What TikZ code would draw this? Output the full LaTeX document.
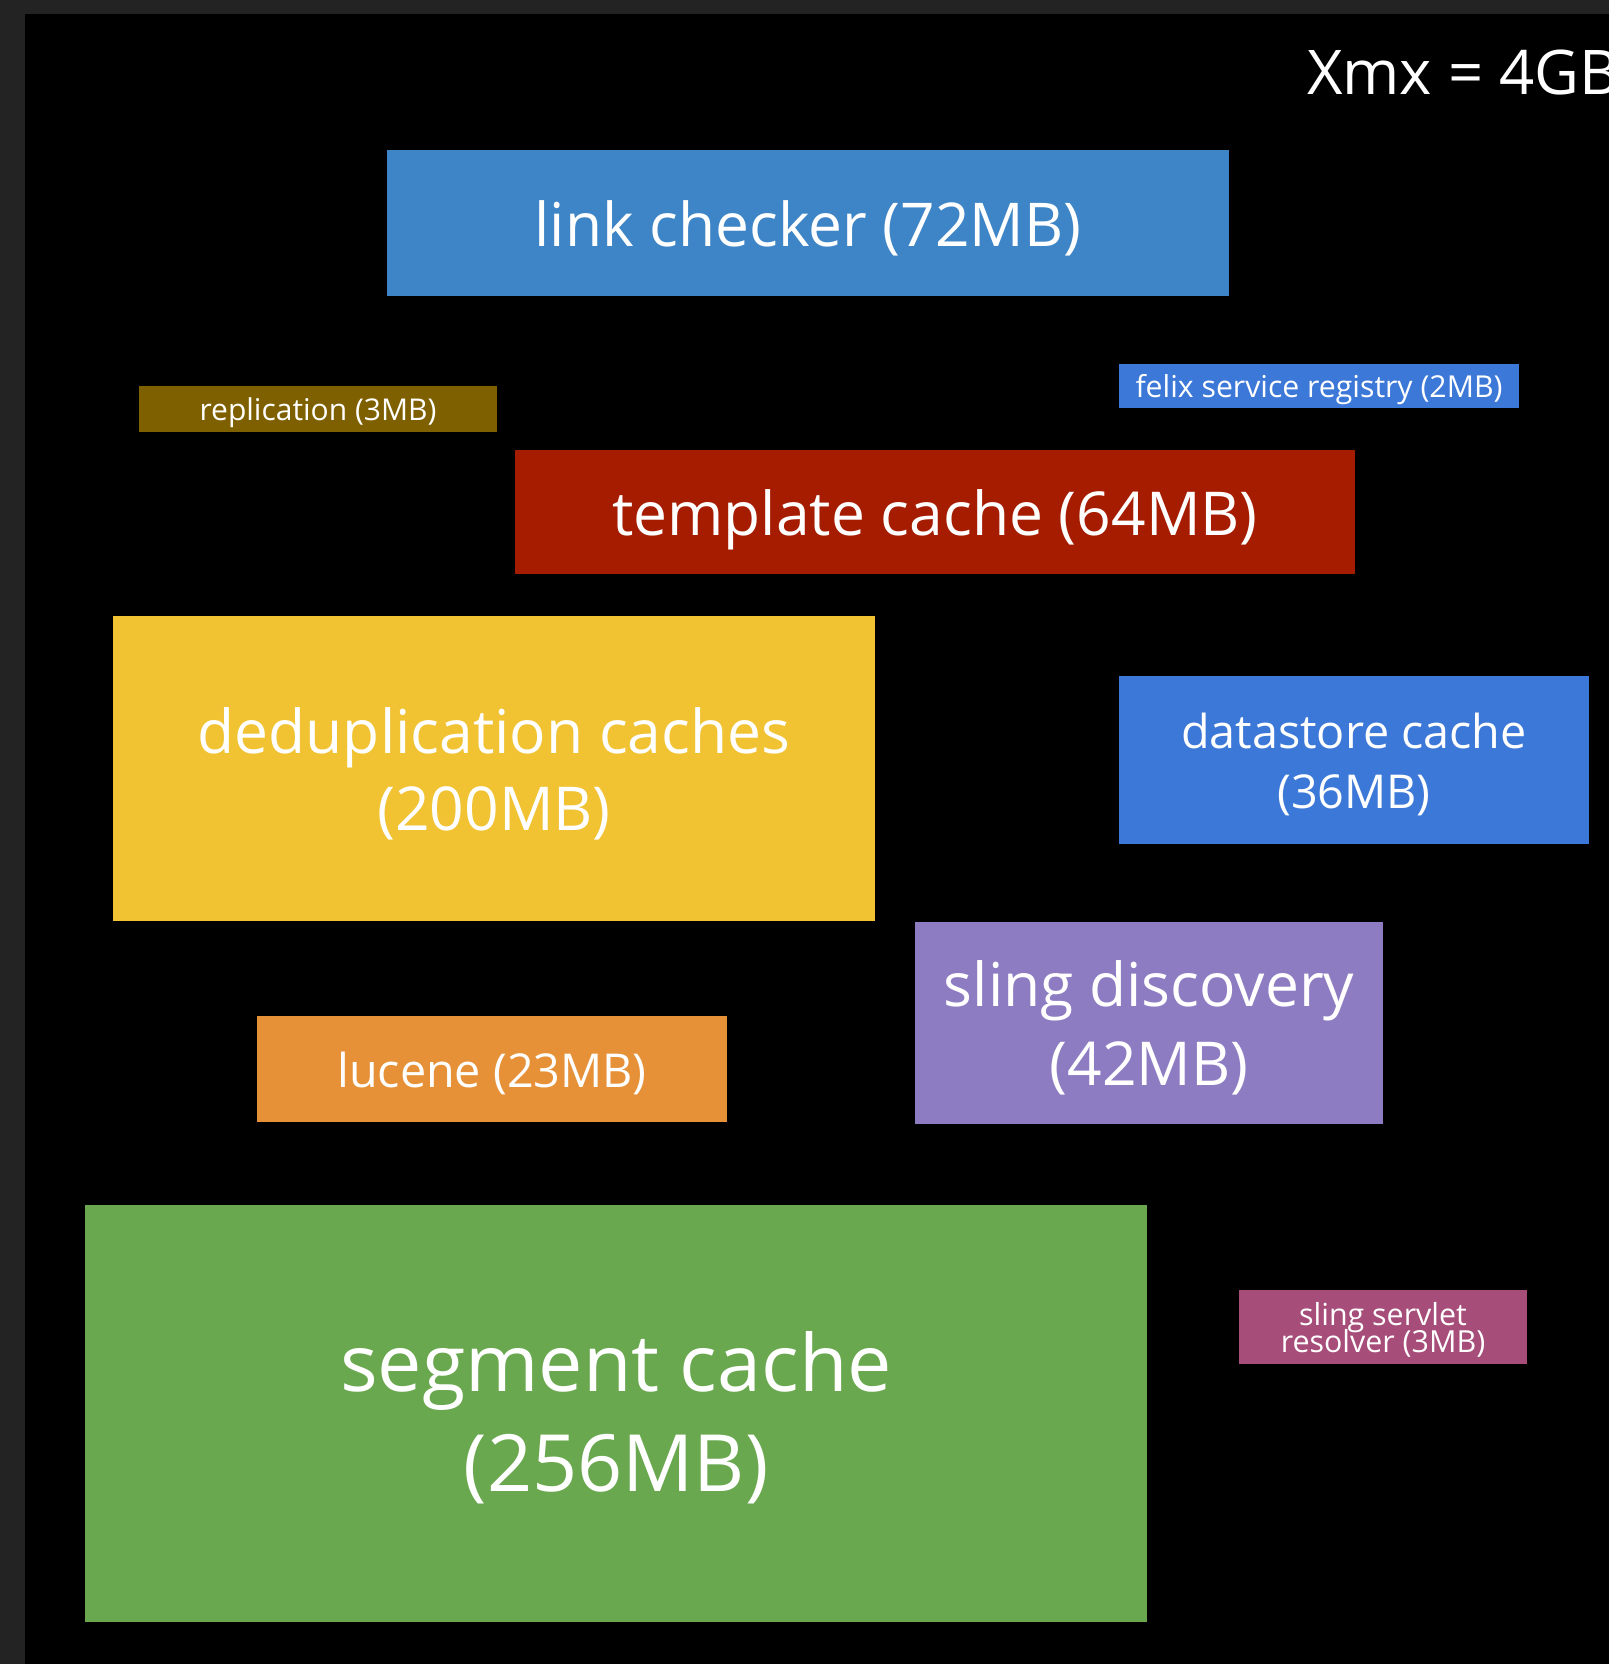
\documentclass[tikz,border=0pt]{standalone}
\usepackage{fontspec}
\setmainfont{Open Sans}
\definecolor{framegray}{HTML}{232323}
\definecolor{cLink}{HTML}{3D85C6}
\definecolor{cCorn}{HTML}{3C78D8}
\definecolor{cRepl}{HTML}{7F6000}
\definecolor{cTmpl}{HTML}{A61C00}
\definecolor{cDedup}{HTML}{F1C232}
\definecolor{cLucene}{HTML}{E69138}
\definecolor{cDisc}{HTML}{8E7CC3}
\definecolor{cSeg}{HTML}{6AA84F}
\definecolor{cServ}{HTML}{A64D79}
\newcommand\oneline[1]{\rule[-0.293em]{0pt}{1.362em}#1}
\newcommand\twolines[2]{\rule{0pt}{1.069em}#1\\\rule[-0.293em]{0pt}{0.293em}#2}
\newcommand\fsz[2]{\fontsize{#1}{#2}\selectfont\lineskiplimit=-1000pt\relax}
\begin{document}
\begin{tikzpicture}[x=1pt,y=-1pt,
  membox/.style={draw=none, inner sep=0pt, outer sep=0pt, anchor=north west},
  lbl/.style={text=white, align=center, inner sep=0pt, outer sep=0pt, anchor=center}]
\useasboundingbox (0,0) rectangle (1609,1664);
\fill[framegray] (0,0) rectangle (1609,1664);
\fill[black] (25,14) rectangle (1609,1664);

\node[lbl, anchor=base west, font=\fsz{61.6}{80}] (xmx) at (1307,94.3) {Xmx = 4GB};

\node[membox, fill=cLink, minimum width=842pt, minimum height=146pt] (lc) at (387,150) {};
\node[lbl, font=\fsz{60.4}{78}] (lcT) at (lc.center) {\oneline{link checker (72MB)}};

\node[membox, fill=cRepl, minimum width=358pt, minimum height=46pt] (repl) at (139,386) {};
\node[lbl, font=\fsz{30}{38}] (replT) at (repl.center) {\oneline{replication (3MB)}};

\node[membox, fill=cCorn, minimum width=400pt, minimum height=44pt] (felix) at (1119,364) {};
\node[lbl, font=\fsz{30.2}{39}] (felixT) at (felix.center) {\oneline{felix service registry (2MB)}};

\node[membox, fill=cTmpl, minimum width=840pt, minimum height=124pt] (tmpl) at (515,450) {};
\node[lbl, font=\fsz{60.5}{78}] (tmplT) at (tmpl.center) {\oneline{template cache (64MB)}};

\node[membox, fill=cDedup, minimum width=762pt, minimum height=305pt] (dedup) at (113,616) {};
\node[lbl, font=\fsz{60.5}{77.5}] (dedupT) at (dedup.center) {\twolines{deduplication caches}{(200MB)}};

\node[membox, fill=cCorn, minimum width=470pt, minimum height=168pt] (ds) at (1119,676) {};
\node[lbl, font=\fsz{46.7}{60}] (dsT) at (ds.center) {\twolines{datastore cache}{(36MB)}};

\node[membox, fill=cDisc, minimum width=468pt, minimum height=202pt] (disc) at (915,922) {};
\node[lbl, font=\fsz{60.5}{79}] (discT) at (disc.center) {\twolines{sling discovery}{(42MB)}};

\node[membox, fill=cLucene, minimum width=470pt, minimum height=106pt] (luc) at (257,1016) {};
\node[lbl, font=\fsz{46.7}{60}] (lucT) at (luc.center) {\oneline{lucene (23MB)}};

\node[membox, fill=cSeg, minimum width=1062pt, minimum height=417pt] (seg) at (85,1205) {};
\node[lbl, font=\fsz{79}{100}] (segT) at ([yshift=3pt]seg.center) {\twolines{segment cache}{(256MB)}};

\node[membox, fill=cServ, minimum width=288pt, minimum height=74pt] (serv) at (1239,1290) {};
\node[lbl, font=\fsz{30.4}{27}] (servT) at (serv.center) {\twolines{sling servlet}{resolver (3MB)}};
\end{tikzpicture}
\end{document}
